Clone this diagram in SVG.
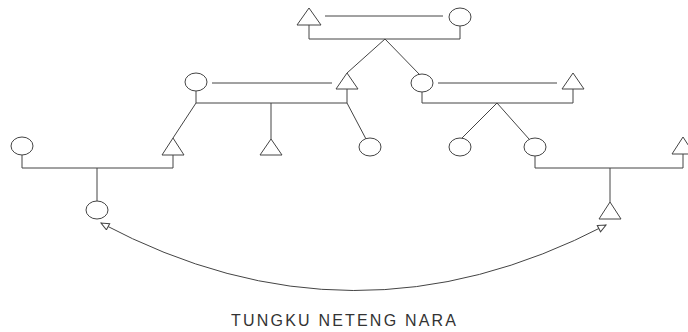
<svg xmlns="http://www.w3.org/2000/svg" width="688" height="332" viewBox="0 0 688 332">
<style>
.s{fill:#fff;stroke:#444;stroke-width:1}
.l{fill:none;stroke:#444;stroke-width:1}
.t{font-family:"Liberation Sans",Arial,sans-serif;font-size:16px;letter-spacing:2.2px;fill:#333}
</style>
<defs>
<marker id="ah" markerUnits="userSpaceOnUse" markerWidth="10" markerHeight="9" refX="9" refY="4" orient="auto-start-reverse">
<path d="M1,0.5 L9,4 L1,7.5 z" fill="#fff" stroke="#444" stroke-width="1"/>
</marker>
</defs>
<rect width="688" height="332" fill="#fff"/>
<g id="connectors">
<path class="l" d="M325,16H443"/>
<path class="l" d="M309,25V39H460V26"/>
<path class="l" d="M347,73L385,39L420,75"/>
<path class="l" d="M212,83H332"/>
<path class="l" d="M196,91V103H347V89"/>
<path class="l" d="M173,138L196,103"/>
<path class="l" d="M271,103V139"/>
<path class="l" d="M347,103L366,139"/>
<path class="l" d="M438,83H557"/>
<path class="l" d="M422,92V103H573V89"/>
<path class="l" d="M462,138L497,103L529,139"/>
<path class="l" d="M22,155V168H173V155"/>
<path class="l" d="M97,168V201"/>
<path class="l" d="M535,156V168H683V154"/>
<path class="l" d="M610,168V202"/>
<path class="l" d="M101,223Q353,357 606,225" marker-start="url(#ah)" marker-end="url(#ah)"/>
</g>
<g id="n1"><path class="s" d="M309,8L321,25H297z"/></g>
<g id="n2"><ellipse class="s" cx="460" cy="17" rx="11" ry="9"/></g>
<g id="n3"><ellipse class="s" cx="196" cy="82" rx="11" ry="9"/></g>
<g id="n4"><path class="s" d="M347,73L358,89H336z"/></g>
<g id="n5"><ellipse class="s" cx="422" cy="83" rx="11" ry="9"/></g>
<g id="n6"><path class="s" d="M573,73L584,89H562z"/></g>
<g id="n7"><ellipse class="s" cx="22" cy="146" rx="11" ry="9"/></g>
<g id="n8"><path class="s" d="M173,138L184,155H162z"/></g>
<g id="n9"><path class="s" d="M271,139L282,155H260z"/></g>
<g id="n10"><ellipse class="s" cx="370" cy="147" rx="11" ry="9"/></g>
<g id="n11"><ellipse class="s" cx="460" cy="147" rx="11" ry="9"/></g>
<g id="n12"><ellipse class="s" cx="535" cy="147" rx="11" ry="9"/></g>
<g id="n13"><path class="s" d="M683,137L694,154H672z"/></g>
<g id="n14"><ellipse class="s" cx="97" cy="210" rx="11" ry="9"/></g>
<g id="n15"><path class="s" d="M610,202L621,219H599z"/></g>
<text class="t" x="231" y="326">TUNGKU NETENG NARA</text>
</svg>
